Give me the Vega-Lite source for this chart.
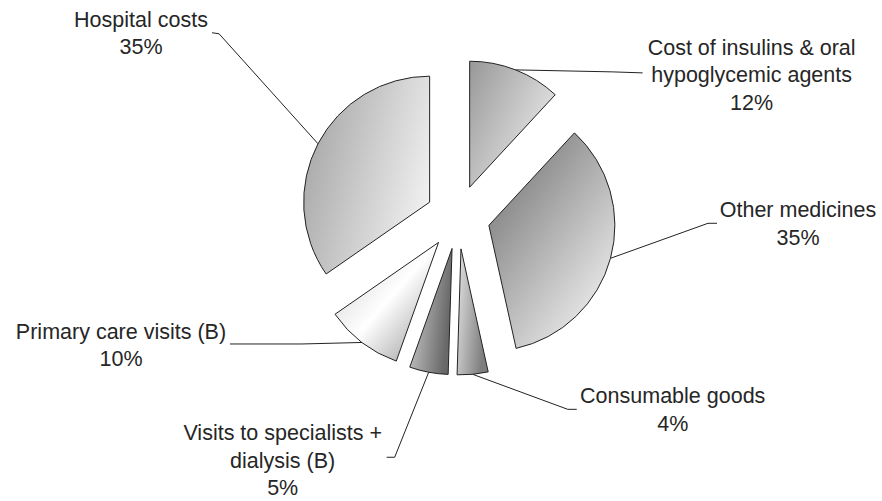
{
  "$schema": "https://vega.github.io/schema/vega-lite/v6.json",
  "autosize": "none",
  "width": 848,
  "height": 434,
  "padding": {"left": 34, "top": 0, "right": 0, "bottom": 67},
  "background": "white",
  "config": {"view": {"stroke": null}},
  "params": [
    {
      "name": "lab",
      "value": {
        "Cost of insulins & oral hypoglycemic agents": {"b": [97, 2], "l": [127, 3], "t": [236, -15]},
        "Other medicines": {"b": [97.5, -35], "l": [106.5, -35], "t": [187.5, -41]},
        "Consumable goods": {"b": [95, 35], "l": [104, 35], "t": [200, 29]},
        "Visits to specialists + dialysis (B)": {"b": [-34, 85], "l": [-42, 85], "t": [-146, 68]},
        "Primary care visits (B)": {"b": [-60, 1.5], "l": [-132, 1.5], "t": [-241, -3.5]},
        "Hospital costs": {"b": [-99, -110], "l": [-106, -111], "t": [-177, -117]}
      }
    }
  ],
  "data": {
    "values": [
      {"category": "Cost of insulins & oral hypoglycemic agents", "label": "Cost of insulins & oral\nhypoglycemic agents", "value": 12},
      {"category": "Other medicines", "label": "Other medicines", "value": 35},
      {"category": "Consumable goods", "label": "Consumable goods", "value": 4},
      {"category": "Visits to specialists + dialysis (B)", "label": "Visits to specialists +\ndialysis (B)", "value": 5},
      {"category": "Primary care visits (B)", "label": "Primary care visits (B)", "value": 10},
      {"category": "Hospital costs", "label": "Hospital costs", "value": 35}
    ]
  },
  "transform": [
    {"stack": "value", "groupby": [], "as": ["v0", "v1"]},
    {"joinaggregate": [{"op": "sum", "field": "value", "as": "tot"}]}
  ],
  "layer": [
    {
      "mark": {
        "type": "arc",
        "outerRadius": 126,
        "stroke": "#222222",
        "strokeWidth": 1,
        "x": {"expr": "width/2 + 32*sin(PI*(datum.v0+datum.v1)/datum.tot)"},
        "y": {"expr": "height/2 - 32*cos(PI*(datum.v0+datum.v1)/datum.tot)"}
      },
      "encoding": {
        "theta": {"field": "value", "type": "quantitative", "stack": true},
        "color": {
          "condition": [
            {"test": "datum.category === 'Cost of insulins & oral hypoglycemic agents'", "value": {"gradient": "linear", "x1": 0, "y1": 0, "x2": 1, "y2": 0.7, "stops": [{"offset": 0, "color": "#989898"}, {"offset": 1, "color": "#ececec"}]}},
            {"test": "datum.category === 'Other medicines'", "value": {"gradient": "linear", "x1": 0, "y1": 0, "x2": 0.8, "y2": 1, "stops": [{"offset": 0, "color": "#6a6a6a"}, {"offset": 1, "color": "#f2f2f2"}]}},
            {"test": "datum.category === 'Consumable goods'", "value": {"gradient": "linear", "x1": 0, "y1": 0, "x2": 1, "y2": 0.4, "stops": [{"offset": 0, "color": "#e6e6e6"}, {"offset": 1, "color": "#7e7e7e"}]}},
            {"test": "datum.category === 'Visits to specialists + dialysis (B)'", "value": {"gradient": "linear", "x1": 0, "y1": 0, "x2": 1, "y2": 0.3, "stops": [{"offset": 0, "color": "#d4d4d4"}, {"offset": 1, "color": "#686868"}]}},
            {"test": "datum.category === 'Primary care visits (B)'", "value": {"gradient": "linear", "x1": 0, "y1": 0, "x2": 1, "y2": 1, "stops": [{"offset": 0, "color": "#cccccc"}, {"offset": 0.5, "color": "#ffffff"}, {"offset": 1, "color": "#909090"}]}}
          ],
          "value": {"gradient": "linear", "x1": 0, "y1": 0.2, "x2": 1, "y2": 0.6, "stops": [{"offset": 0, "color": "#a4a4a4"}, {"offset": 1, "color": "#f0f0f0"}]}
        }
      }
    },
    {
      "mark": {"type": "rule", "color": "#222222", "strokeWidth": 1},
      "encoding": {
        "x": {"value": {"expr": "width/2 + 158*sin(PI*(datum.v0+datum.v1)/datum.tot)"}},
        "y": {"value": {"expr": "height/2 - 158*cos(PI*(datum.v0+datum.v1)/datum.tot)"}},
        "x2": {"value": {"expr": "width/2 + 158*sin(PI*(datum.v0+datum.v1)/datum.tot) + lab[datum.category].b[0]"}},
        "y2": {"value": {"expr": "height/2 - 158*cos(PI*(datum.v0+datum.v1)/datum.tot) + lab[datum.category].b[1]"}}
      }
    },
    {
      "mark": {"type": "rule", "color": "#222222", "strokeWidth": 1},
      "encoding": {
        "x": {"value": {"expr": "width/2 + 158*sin(PI*(datum.v0+datum.v1)/datum.tot) + lab[datum.category].b[0]"}},
        "y": {"value": {"expr": "height/2 - 158*cos(PI*(datum.v0+datum.v1)/datum.tot) + lab[datum.category].b[1]"}},
        "x2": {"value": {"expr": "width/2 + 158*sin(PI*(datum.v0+datum.v1)/datum.tot) + lab[datum.category].l[0]"}},
        "y2": {"value": {"expr": "height/2 - 158*cos(PI*(datum.v0+datum.v1)/datum.tot) + lab[datum.category].l[1]"}}
      }
    },
    {
      "mark": {
        "type": "text",
        "x": {"expr": "width/2 + 158*sin(PI*(datum.v0+datum.v1)/datum.tot) + lab[datum.category].t[0]"},
        "y": {"expr": "height/2 - 158*cos(PI*(datum.v0+datum.v1)/datum.tot) + lab[datum.category].t[1]"},
        "text": {"expr": "datum.label + '\\n' + datum.value + '%'"},
        "align": "center",
        "baseline": "alphabetic",
        "lineBreak": "\n",
        "lineHeight": 27.5,
        "font": "Liberation Sans",
        "fontSize": 21.5,
        "fill": "#262626"
      },
      "encoding": {}
    }
  ]
}
